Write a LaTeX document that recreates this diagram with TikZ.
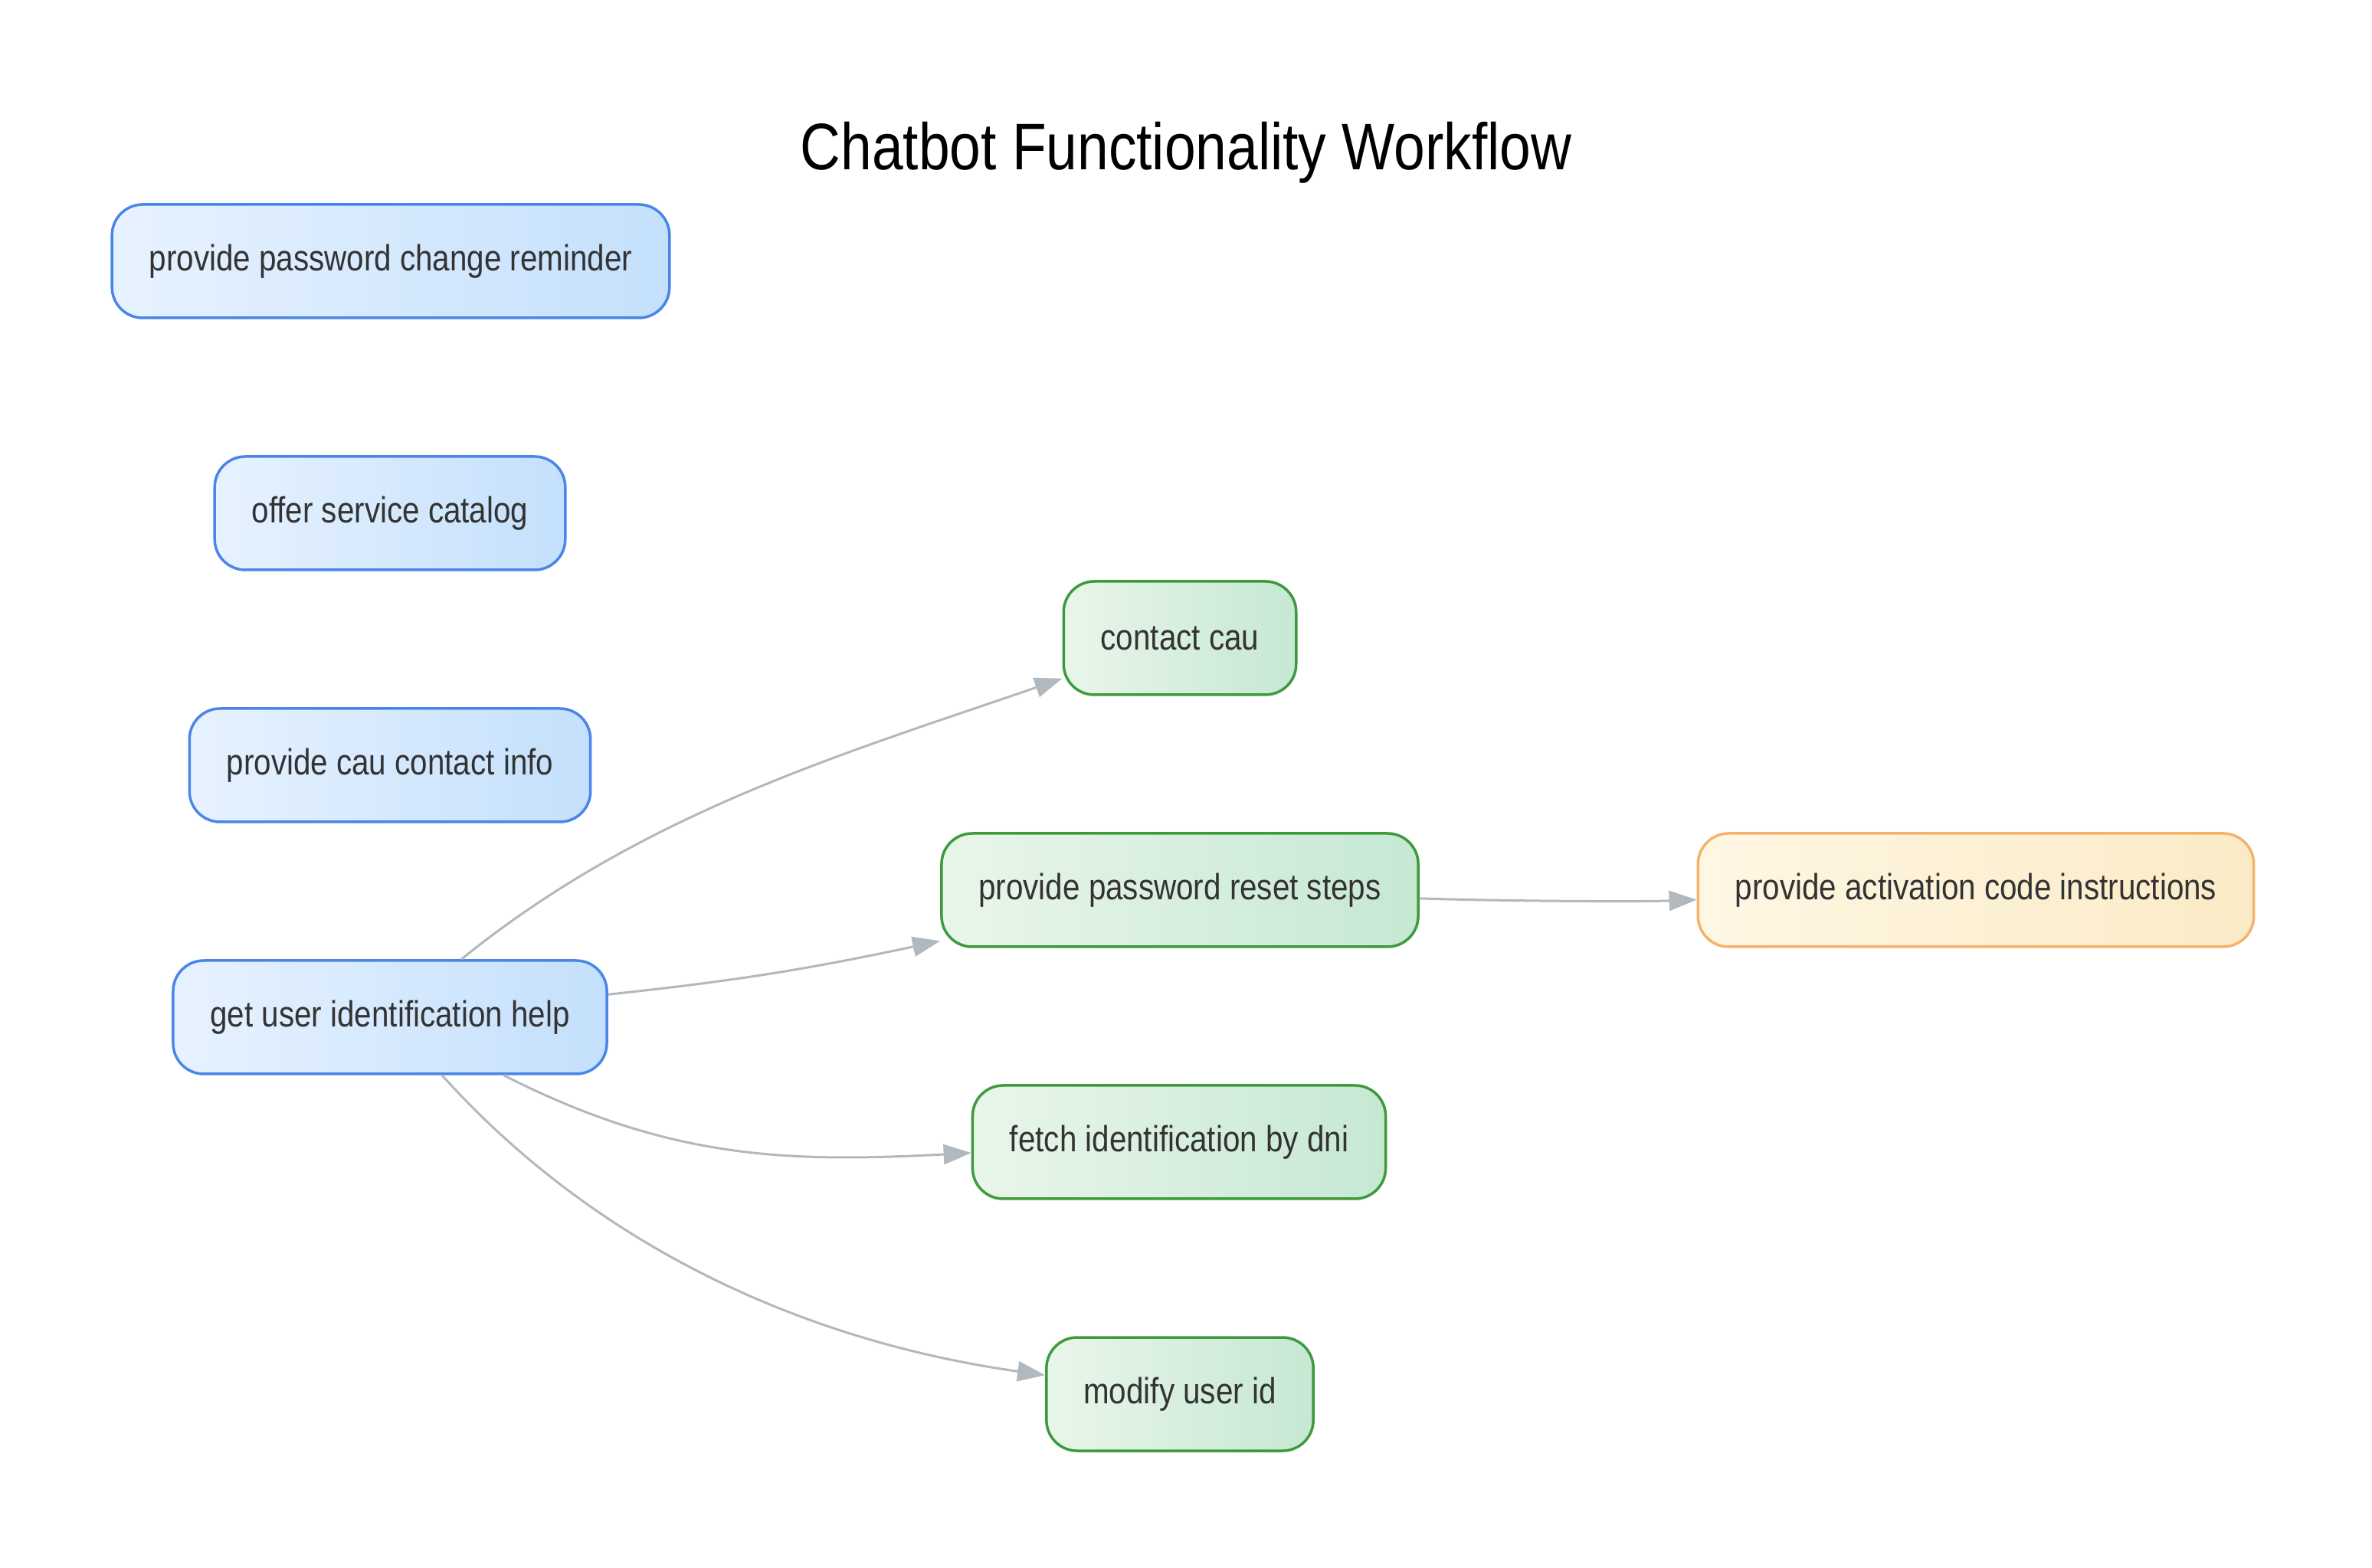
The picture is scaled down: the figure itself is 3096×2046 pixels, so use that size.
\documentclass[tikz,border=0pt]{standalone}
\usepackage{fontspec}
\setmainfont{Liberation Sans}[FakeStretch=0.85]
\usepackage{tikz}
\usetikzlibrary{arrows.meta}

\definecolor{bluel}{RGB}{231,242,255}
\definecolor{bluer}{RGB}{196,224,252}
\definecolor{blueb}{RGB}{74,134,232}
\definecolor{greenl}{RGB}{233,246,234}
\definecolor{greenr}{RGB}{198,232,210}
\definecolor{greenb}{RGB}{61,155,61}
\definecolor{orangel}{RGB}{254,247,228}
\definecolor{oranger}{RGB}{251,234,198}
\definecolor{orangeb}{RGB}{246,178,107}
\definecolor{edgegray}{RGB}{176,184,192}
\definecolor{txt}{RGB}{51,51,51}

\tikzset{
  box/.style={rounded corners=40pt, line width=3.5pt, minimum height=148pt,
    inner xsep=48.5pt, text=txt, font=\fontsize{47.5}{57}\selectfont},
  bluebox/.style={box, draw=blueb, left color=bluel, right color=bluer},
  greenbox/.style={box, draw=greenb, left color=greenl, right color=greenr},
  orangebox/.style={box, draw=orangeb, left color=orangel, right color=oranger},
  flow/.style={draw=edgegray, line width=3pt, >={Triangle[length=36pt,width=26pt]}}
}

\begin{document}
\begin{tikzpicture}[x=1pt,y=1pt]
\useasboundingbox (0,0) rectangle (3096,2046);
\node (T) at (1548,1847) {\fontsize{86}{100}\selectfont Chatbot Functionality Workflow};
\node[bluebox] (A) at (510,1705) {provide password change reminder};
\node[bluebox] (B) at (509,1376) {offer service catalog};
\node[bluebox] (C) at (509,1047) {provide cau contact info};
\node[bluebox] (D) at (509,718) {get user identification help};
\node[greenbox] (E) at (1540,1213) {contact cau};
\node[greenbox] (F) at (1540,884) {provide password reset steps};
\node[greenbox] (G) at (1539,555) {fetch identification by dni};
\node[greenbox] (H) at (1540,226) {modify user id};
\node[orangebox] (I) at (2579,884) {provide activation code instructions};
\draw [flow,->] (D) to[out=39,in=199,looseness=0.9] (E);
\draw [flow,->] (D) to[out=6,in=192] (F);
\draw [flow,->] (D) to[out=-27,in=183] (G);
\draw [flow,->] (D) to[out=-48,in=172,looseness=0.9] (H);
\draw [flow,->] (F) to[out=-2,in=182,looseness=0.6] (I);
\end{tikzpicture}
\end{document}
